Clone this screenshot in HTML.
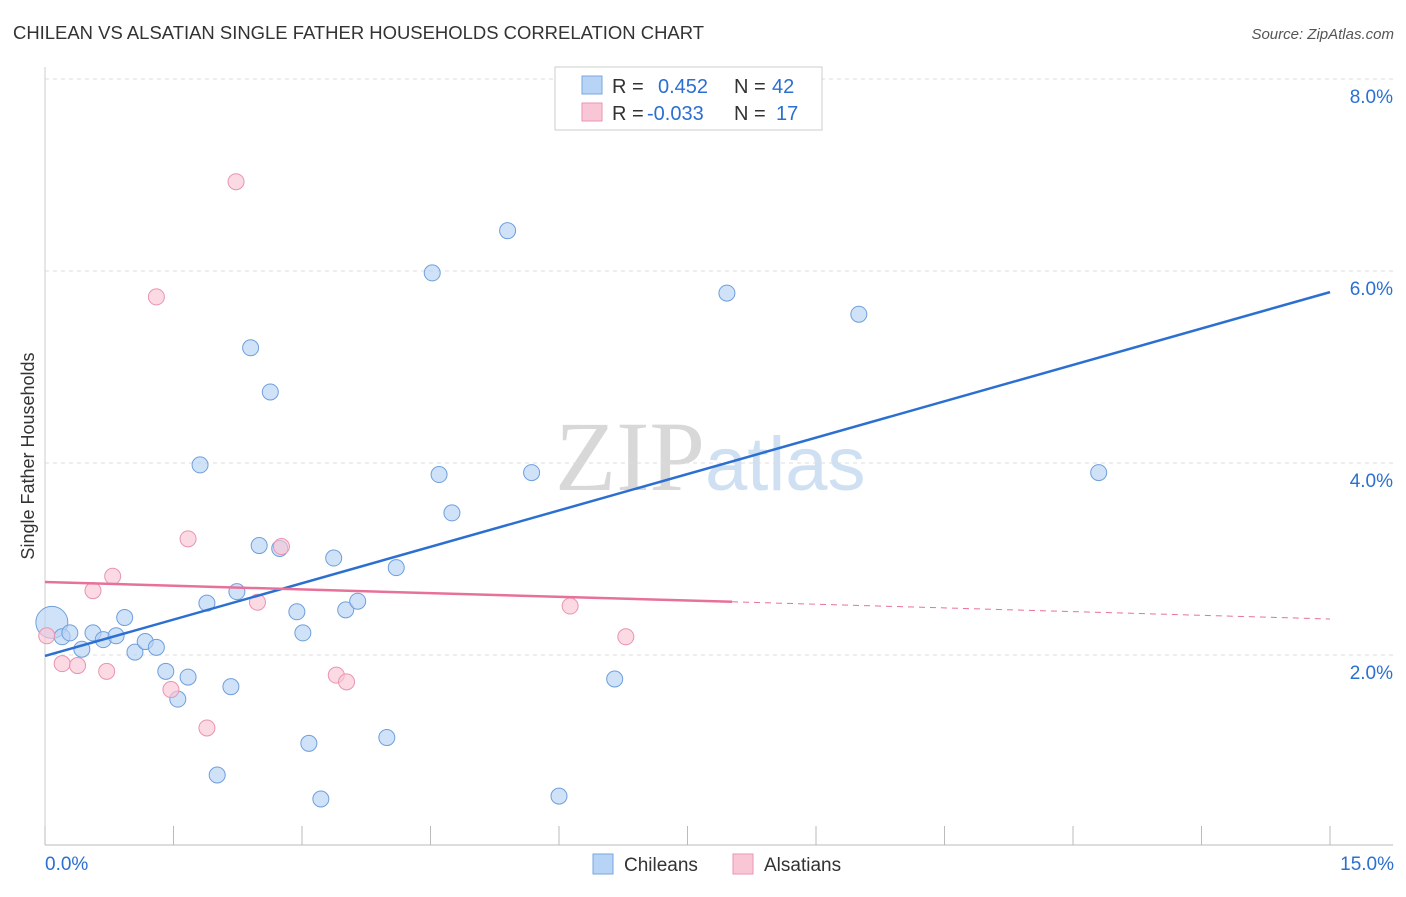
<!DOCTYPE html>
<html><head><meta charset="utf-8"><style>
body{margin:0;background:#fff;font-family:"Liberation Sans",sans-serif}
</style></head><body>
<svg id="c" width="1406" height="892" xmlns="http://www.w3.org/2000/svg">
<text x="13" y="39" font-size="18" fill="#333" textLength="691" lengthAdjust="spacingAndGlyphs">CHILEAN VS ALSATIAN SINGLE FATHER HOUSEHOLDS CORRELATION CHART</text>
<text x="1394" y="39" font-size="15" fill="#555" font-style="italic" text-anchor="end">Source: ZipAtlas.com</text>
<text x="555" y="490" font-size="100" fill="#ddd" font-family="Liberation Serif,serif"><tspan fill="#d8d8d8">ZIP</tspan><tspan fill="#cfe0f3" font-family="Liberation Sans,sans-serif" font-size="76">atlas</tspan></text>
<g id="grid"></g>
<g id="axes"></g>
<g id="marks"></g>
<text transform="translate(34,456) rotate(-90)" font-size="18" fill="#333" text-anchor="middle">Single Father Households</text>
<g>
<rect x="555" y="67" width="267" height="63" fill="#fff" stroke="#ccc"/>
<rect x="582" y="76" width="20" height="18" fill="#b7d3f5" stroke="#7aa7e0"/>
<rect x="582" y="103" width="20" height="18" fill="#f9c6d6" stroke="#eb96b2"/>
<text x="612" y="93" font-size="20" fill="#333">R = <tspan x="658" fill="#2b6fd1">0.452</tspan><tspan x="734">N = </tspan><tspan x="772" fill="#2b6fd1">42</tspan></text>
<text x="612" y="120" font-size="20" fill="#333">R = <tspan x="647" fill="#2b6fd1">-0.033</tspan><tspan x="734">N = </tspan><tspan x="776" fill="#2b6fd1">17</tspan></text>
</g>
<g>
<rect x="593" y="854" width="20" height="20" fill="#b7d3f5" stroke="#7aa7e0"/>
<text x="624" y="871" font-size="19" fill="#333">Chileans</text>
<rect x="733" y="854" width="20" height="20" fill="#f9c6d6" stroke="#eb96b2"/>
<text x="764" y="871" font-size="19" fill="#333">Alsatians</text>
</g>
</svg>
<script>
const yTicks=[2,4,6,8];
const yTickLabels=["2.0%","4.0%","6.0%","8.0%"];
const xTickLabels=["0.0%","15.0%"];
const chileanX=[0.08,0.2,0.29,0.43,0.56,0.68,0.83,0.93,1.05,1.17,1.30,1.41,1.55,1.67,1.81,1.89,2.01,2.17,2.24,2.40,2.50,2.63,2.74,2.94,3.01,3.08,3.22,3.37,3.51,3.65,3.99,4.10,4.52,4.60,4.75,5.40,5.68,6.00,6.65,7.96,9.50,12.30];
const chileanY=[2.34,2.19,2.23,2.06,2.23,2.16,2.20,2.39,2.03,2.14,2.08,1.83,1.54,1.77,3.98,2.54,0.75,1.67,2.66,5.20,3.14,4.74,3.11,2.45,2.23,1.08,0.50,3.01,2.47,2.56,1.14,2.91,5.98,3.88,3.48,6.42,3.90,0.53,1.75,5.77,5.55,3.90];
const alsatianX=[0.02,0.2,0.38,0.56,0.72,0.79,1.30,1.47,1.67,1.89,2.23,2.48,2.76,3.40,3.52,6.13,6.78];
const alsatianY=[2.2,1.91,1.89,2.67,1.83,2.82,5.73,1.64,3.21,1.24,6.93,2.55,3.13,1.79,1.72,2.51,2.19];
const blueTrend=[1.99,5.78];
const pinkTrend=[2.76,2.375];
const X=v=>45+v*85.667, Y=v=>847-v*96;
const NS="http://www.w3.org/2000/svg";
function mk(p,t,a){const e=document.createElementNS(NS,t);for(const k in a)e.setAttribute(k,a[k]);p.appendChild(e);return e;}
const grid=document.getElementById('grid'),axes=document.getElementById('axes'),marks=document.getElementById('marks');
yTicks.forEach((t,i)=>{
 const l=mk(grid,'line',{x1:45,x2:1393,y1:Y(t),y2:Y(t),stroke:'#ddd','stroke-dasharray':'4,4'});
 
 
 const tx=mk(axes,'text',{x:1393,y:Y(t)+24,'font-size':19,fill:'#2b6fd1','text-anchor':'end'});tx.textContent=yTickLabels[i];
 
 
});
const ax=mk(axes,'line',{x1:45,x2:1393,y1:845,y2:845,stroke:'#bbb'});


const ay=mk(axes,'line',{x1:45,x2:45,y1:67,y2:845,stroke:'#ccc'});


for(let i=0;i<=10;i++){const t=mk(axes,'line',{x1:X(i*1.5),x2:X(i*1.5),y1:826,y2:845,stroke:'#bbb'});
 
 }
[[0,'start',45],[15,'end',1394]].forEach((d,i)=>{const t=mk(axes,'text',{x:d[2],y:870,'font-size':19,fill:'#2b6fd1','text-anchor':d[1]});t.textContent=xTickLabels[i];
 
 });
chileanX.forEach((x,i)=>{const c=mk(marks,'circle',{cx:X(x),cy:Y(chileanY[i]),r:i==0?16:8,fill:'#b7d3f5','fill-opacity':0.65,stroke:'#6e9fdc','stroke-width':1});
 
 });
alsatianX.forEach((x,i)=>{const c=mk(marks,'circle',{cx:X(x),cy:Y(alsatianY[i]),r:8,fill:'#f9c6d6','fill-opacity':0.65,stroke:'#e994b0','stroke-width':1});
 
 });
const bl=mk(marks,'line',{x1:X(0),y1:Y(blueTrend[0]),x2:X(15),y2:Y(blueTrend[1]),stroke:'#2b6fd1','stroke-width':2.5});


const pm=pinkTrend[0]+(pinkTrend[1]-pinkTrend[0])*8.02/15;
const pl=mk(marks,'line',{x1:X(0),y1:Y(pinkTrend[0]),x2:X(8.02),y2:Y(pm),stroke:'#e8719a','stroke-width':2.5});


const pd=mk(marks,'line',{x1:X(8.02),y1:Y(pm),x2:X(15),y2:Y(pinkTrend[1]),stroke:'#e8719a','stroke-width':1,'stroke-dasharray':'6,5'});


</script>
</body></html>
